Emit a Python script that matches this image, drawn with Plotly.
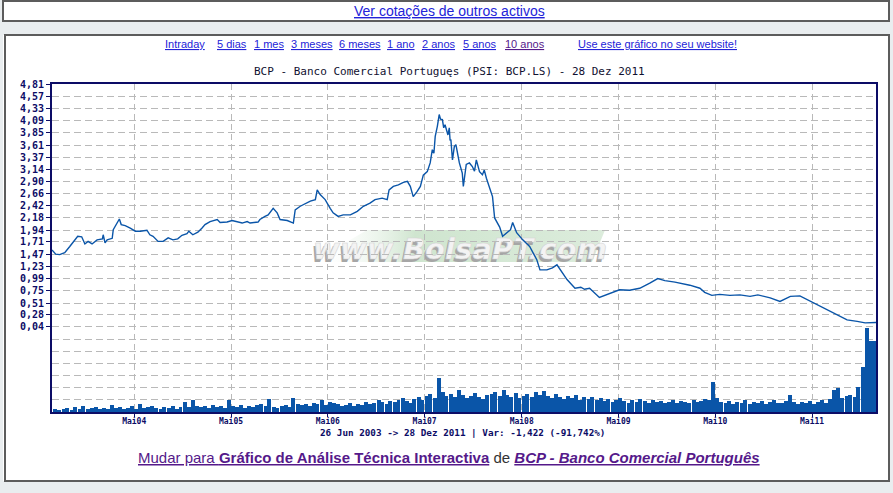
import base64
import pandas as pd
import plotly.graph_objects as go

# ---------------- data ----------------
price_dates = [
    "2003-06-26", "2003-07-10", "2003-07-25", "2003-08-13", "2003-09-01", "2003-09-20", "2003-10-01", "2003-10-16",
    "2003-10-28", "2003-11-09", "2003-11-24", "2003-12-13", "2004-01-02", "2004-01-05", "2004-01-12",
    "2004-01-20", "2004-02-08", "2004-02-12", "2004-02-27", "2004-03-06", "2004-03-13", "2004-03-28",
    "2004-04-16", "2004-05-05", "2004-05-24", "2004-06-18", "2004-06-29", "2004-07-11", "2004-07-30",
    "2004-08-18", "2004-09-06", "2004-09-24", "2004-10-12", "2004-10-28", "2004-11-16", "2004-11-23",
    "2004-12-08", "2004-12-27", "2005-01-11", "2005-01-23", "2005-02-11", "2005-03-10", "2005-03-21",
    "2005-04-16", "2005-05-05", "2005-05-24", "2005-06-12", "2005-07-01", "2005-07-12", "2005-08-11",
    "2005-08-18", "2005-09-06", "2005-09-18", "2005-10-07", "2005-10-22", "2005-11-02", "2005-11-29",
    "2005-12-22", "2005-12-29", "2006-01-17", "2006-02-05", "2006-02-24", "2006-03-15", "2006-03-22",
    "2006-04-02", "2006-04-21", "2006-05-10", "2006-05-21", "2006-06-09", "2006-06-28", "2006-07-25",
    "2006-08-20", "2006-09-12", "2006-10-07", "2006-10-26", "2006-11-22", "2006-12-11", "2006-12-18",
    "2007-01-03", "2007-01-22", "2007-02-10", "2007-02-25", "2007-03-08", "2007-03-19", "2007-04-03",
    "2007-04-15", "2007-04-26", "2007-05-11", "2007-05-22", "2007-05-30", "2007-06-05", "2007-06-10",
    "2007-06-18", "2007-06-25", "2007-06-30", "2007-07-07", "2007-07-12", "2007-07-17", "2007-07-28",
    "2007-08-02", "2007-08-05", "2007-08-08", "2007-08-14", "2007-08-21", "2007-08-27", "2007-09-01",
    "2007-09-09", "2007-09-20", "2007-09-24", "2007-10-05", "2007-10-17", "2007-10-28", "2007-11-05",
    "2007-11-12", "2007-11-24", "2007-12-05", "2007-12-12", "2007-12-20", "2008-01-01", "2008-01-12",
    "2008-01-20", "2008-02-08", "2008-02-19", "2008-03-05", "2008-03-20", "2008-03-28", "2008-04-12",
    "2008-05-05", "2008-05-20", "2008-05-31", "2008-06-27", "2008-07-09", "2008-08-04", "2008-08-25",
    "2008-09-11", "2008-09-30", "2008-10-19", "2008-11-18", "2008-12-10", "2008-12-24", "2009-01-12",
    "2009-02-18", "2009-03-28", "2009-05-05", "2009-06-12", "2009-07-20", "2009-08-27", "2009-09-26",
    "2009-10-23", "2009-11-30", "2010-01-25", "2010-03-04", "2010-03-22", "2010-04-18", "2010-05-18",
    "2010-06-25", "2010-08-02", "2010-09-09", "2010-10-09", "2010-11-24", "2010-12-31", "2011-02-08",
    "2011-03-16", "2011-04-15", "2011-05-19", "2011-06-26", "2011-08-03", "2011-09-10", "2011-10-18",
    "2011-11-17", "2011-12-28",
]
price_values = [
    1.55, 1.47, 1.46, 1.50, 1.62, 1.75, 1.82, 1.81,
    1.67, 1.72, 1.67, 1.75, 1.77, 1.85, 1.69,
    1.75, 1.78, 1.95, 2.08, 2.16, 2.05, 2.03,
    1.98, 1.92, 1.92, 1.94, 1.85, 1.82, 1.72,
    1.72, 1.79, 1.75, 1.77, 1.84, 1.87, 1.92,
    1.85, 1.90, 1.98, 2.05, 2.11, 2.15, 2.09,
    2.10, 2.13, 2.11, 2.08, 2.11, 2.08, 2.10,
    2.15, 2.21, 2.24, 2.37, 2.28, 2.15, 2.13,
    2.08, 2.34, 2.41, 2.46, 2.51, 2.54, 2.73,
    2.64, 2.54, 2.37, 2.28, 2.21, 2.24, 2.24,
    2.31, 2.41, 2.47, 2.54, 2.57, 2.54, 2.73,
    2.80, 2.83, 2.88, 2.90, 2.80, 2.60, 2.70,
    2.80, 3.02, 3.09, 3.26, 3.52, 3.45, 3.78,
    3.98, 4.21, 4.12, 4.11, 3.95, 4.01, 3.81,
    3.95, 3.70, 3.72, 3.32, 3.58, 3.62, 3.45,
    3.26, 3.06, 2.80, 3.23, 3.26, 3.19, 3.10,
    3.32, 3.09, 3.03, 3.12, 2.96, 2.77, 2.60,
    2.18, 2.00, 1.82, 1.89, 1.95, 2.09, 1.89,
    1.75, 1.68, 1.62, 1.36, 1.16, 1.16, 1.20,
    1.26, 1.11, 0.97, 0.80, 0.82, 0.78, 0.80,
    0.62, 0.70, 0.77, 0.76, 0.80, 0.90, 0.99,
    0.95, 0.92, 0.86, 0.80, 0.72, 0.66, 0.68,
    0.66, 0.67, 0.64, 0.67, 0.61, 0.54, 0.64,
    0.65, 0.57, 0.49, 0.38, 0.28, 0.18, 0.15,
    0.12, 0.128,
]

# volume, semi-monthly bins (relative units)
vol_2003 = [3, 2, 3, 4, 2, 5, 3, 6, 3, 4, 5, 3]
vol_2004 = [4, 3, 7, 4, 5, 3, 4, 6, 3, 8, 4, 5, 6, 4, 3, 5, 4, 6, 3, 5, 10, 5, 12, 6]
vol_2005 = [5, 6, 4, 7, 5, 6, 4, 12, 6, 5, 7, 4, 6, 5, 7, 8, 6, 13, 5, 4, 6, 7, 5, 14]
vol_2006 = [8, 7, 8, 6, 9, 8, 12, 7, 10, 9, 8, 6, 7, 9, 6, 8, 7, 10, 8, 9, 12, 10, 8, 11]
vol_2007 = [10, 12, 14, 11, 9, 13, 15, 12, 16, 18, 14, 34, 20, 16, 18, 15, 22, 17, 14, 16, 19, 15, 13, 17]
vol_2008 = [18, 20, 16, 22, 17, 15, 19, 14, 16, 18, 15, 20, 17, 21, 16, 14, 18, 15, 13, 16, 14, 17, 12, 15]
vol_2009 = [13, 15, 12, 14, 11, 13, 10, 12, 14, 11, 9, 12, 10, 13, 11, 9, 12, 10, 11, 9, 10, 12, 9, 11]
vol_2010 = [10, 9, 12, 10, 11, 13, 12, 30, 14, 10, 9, 11, 8, 10, 9, 12, 8, 10, 9, 11, 8, 10, 12, 9]
vol_2011 = [9, 11, 17, 10, 8, 10, 9, 11, 8, 10, 12, 9, 13, 22, 24, 14, 16, 17, 15, 25, 45, 84, 71, 71]
volume = vol_2003 + vol_2004 + vol_2005 + vol_2006 + vol_2007 + vol_2008 + vol_2009 + vol_2010 + vol_2011
volume_dates = pd.date_range("2003-07-01", periods=len(volume), freq="SMS")

ytick_values = [4.81, 4.57, 4.33, 4.09, 3.85, 3.61, 3.37, 3.14, 2.90, 2.66, 2.42,
                2.18, 1.94, 1.71, 1.47, 1.23, 0.99, 0.75, 0.51, 0.28, 0.04]
ytick_labels = ["4,81", "4,57", "4,33", "4,09", "3,85", "3,61", "3,37", "3,14", "2,90", "2,66", "2,42",
                "2,18", "1,94", "1,71", "1,47", "1,23", "0,99", "0,75", "0,51", "0,28", "0,04"]
extra_grid = [-0.1985, -0.437, -0.6755, -0.914, -1.1525, -1.391]
xtick_dates = ["2004-05-01", "2005-05-01", "2006-05-01", "2007-05-01",
               "2008-05-01", "2009-05-01", "2010-05-01", "2011-05-01"]
xtick_labels = ["Mai04", "Mai05", "Mai06", "Mai07", "Mai08", "Mai09", "Mai10", "Mai11"]

# ---------------- style ----------------
NAVY = "#0c0c66"
GRID = "#b9b9b9"
BLUE = "#0a55a8"
LINK = "#2323d8"
PURPLE = "#55198a"
PAGE = "#e9edef"
W, H = 893, 493
L, R, T, B = 52, 17, 84, 81
PW, PH = W - L - R, H - T - B


def px(x):
    return (x - L) / PW


def py(y):
    return (H - B - y) / PH


fig = go.Figure()
fig.add_trace(go.Bar(
    x=volume_dates, y=volume, yaxis="y2",
    width=[15 * 86400000] * len(volume), offset=0,
    marker=dict(color=BLUE, line=dict(width=0)),
))
fig.add_trace(go.Scatter(
    x=price_dates, y=price_values, mode="lines",
    line=dict(color=BLUE, width=1.4),
))

# watermark as inline svg image
svg = """<svg xmlns='http://www.w3.org/2000/svg' width='310' height='40' viewBox='0 0 310 40'>
<defs><linearGradient id='g' x1='0' x2='1' y1='0' y2='0'>
<stop offset='0' stop-color='#ffffff' stop-opacity='0'/>
<stop offset='0.35' stop-color='#cfe5cf'/>
<stop offset='1' stop-color='#dcecdc'/></linearGradient></defs>
<polygon points='62,4 300,4 287,36 8,36' fill='url(#g)'/>
<text x='6' y='36' textLength='294' lengthAdjust='spacingAndGlyphs' font-family='DejaVu Sans' font-weight='bold' font-style='italic' font-size='28' fill='#a6a6a6'>www.BolsaPT.com</text>
<text x='8' y='33' textLength='294' lengthAdjust='spacingAndGlyphs' font-family='DejaVu Sans' font-weight='bold' font-style='italic' font-size='28' fill='#f3f3f3' stroke='#d4d4d4' stroke-width='0.6'>www.BolsaPT.com</text>
</svg>"""
svg_uri = "data:image/svg+xml;base64," + base64.b64encode(svg.encode("utf-8")).decode("ascii")


def grey(x0, y0, x1, y1):
    return dict(type="rect", xref="paper", yref="paper", layer="below",
                x0=px(x0), x1=px(x1), y0=py(y1), y1=py(y0),
                fillcolor=PAGE, line=dict(width=0))


def frame(x0, y0, x1, y1):
    return dict(type="rect", xref="paper", yref="paper", layer="below",
                x0=px(x0), x1=px(x1), y0=py(y1), y1=py(y0),
                fillcolor="rgba(0,0,0,0)", line=dict(color="#5c5c5c", width=2))


fig.update_layout(
    width=W, height=H,
    margin=dict(l=L, r=R, t=T, b=B, pad=0),
    paper_bgcolor="#ffffff", plot_bgcolor="#ffffff",
    showlegend=False, hovermode=False, bargap=0,
    xaxis=dict(
        type="date", range=["2003-06-26", "2011-12-28"],
        tickmode="array", tickvals=xtick_dates, ticktext=xtick_labels,
        ticks="outside", ticklen=3, tickwidth=1, tickcolor=NAVY,
        ticklabelstandoff=-3,
        showline=True, linecolor=NAVY, linewidth=2, mirror=True,
        showgrid=True, gridcolor=GRID, gridwidth=1, griddash="6px,4px",
        zeroline=False, fixedrange=True,
        tickfont=dict(family="DejaVu Sans Mono", size=8, color=NAVY, weight="bold"),
    ),
    yaxis=dict(
        range=[-1.6295, 4.81],
        tickmode="array", tickvals=ytick_values, ticktext=ytick_labels,
        ticks="outside", ticklen=4, tickwidth=1, tickcolor=NAVY,
        showline=True, linecolor=NAVY, linewidth=2, mirror=True,
        showgrid=True, gridcolor=GRID, gridwidth=1, griddash="7px,4px",
        minor=dict(tickmode="array", tickvals=extra_grid, showgrid=True,
                   gridcolor=GRID, gridwidth=1, griddash="7px,4px", ticks=""),
        zeroline=False, fixedrange=True,
        tickfont=dict(family="DejaVu Sans Mono", size=10, color=NAVY, weight="bold"),
    ),
    yaxis2=dict(overlaying="y", range=[0, 328], visible=False, fixedrange=True),
    images=[dict(
        source=svg_uri, xref="paper", yref="paper",
        x=px(305), y=py(226), sizex=310 / PW, sizey=40 / PH,
        xanchor="left", yanchor="top", sizing="stretch", layer="below",
    )],
    shapes=[
        grey(0, 21, 893, 35),
        grey(0, 0, 3, 493),
        grey(889, 0, 893, 493),
        grey(0, 481, 893, 493),
        frame(3, 1, 889, 21),
        frame(5, 35, 889, 481),
    ],
)

annotations = []


def note(text, x, y, size, color, family="Liberation Sans", xanchor="left"):
    annotations.append(dict(
        text=text, x=px(x), y=py(y), xref="paper", yref="paper",
        xanchor=xanchor, yanchor="middle", showarrow=False,
        font=dict(family=family, size=size, color=color),
    ))


note("<u>Ver cotações de outros activos</u>", 449, 11, 14, LINK, xanchor="center")

links = [("Intraday", 163), ("5 dias", 215), ("1 mes", 252), ("3 meses", 289),
         ("6 meses", 337), ("1 ano", 385), ("2 anos", 420), ("5 anos", 461),
         ("10 anos", 503), ("Use este gráfico no seu website!", 576)]
for label, lx in links:
    note("<u>" + label + "</u>", lx, 44, 11, PURPLE if label == "10 anos" else LINK)

note("BCP - Banco Comercial Portuguęs (PSI: BCP.LS) - 28 Dez 2011", 449, 72, 11,
     "#101030", family="DejaVu Sans Mono", xanchor="center")
note("<b>26 Jun 2003 -> 28 Dez 2011 | Var: -1,422 (-91,742%)</b>", 462, 432, 9.3,
     NAVY, family="DejaVu Sans Mono", xanchor="center")
note("<u>Mudar para </u><b><u>Gráfico de Análise Técnica Interactiva</u></b>"
     "<span style='color:#333333'> de </span>"
     "<b><i><u>BCP - Banco Comercial Português</u></i></b>",
     449, 458, 15, PURPLE, xanchor="center")

fig.update_layout(annotations=annotations)

fig.write_html("out.html", config={"displayModeBar": False, "staticPlot": True},
               post_script="document.body.style.margin='0';document.body.style.overflow='hidden';")
